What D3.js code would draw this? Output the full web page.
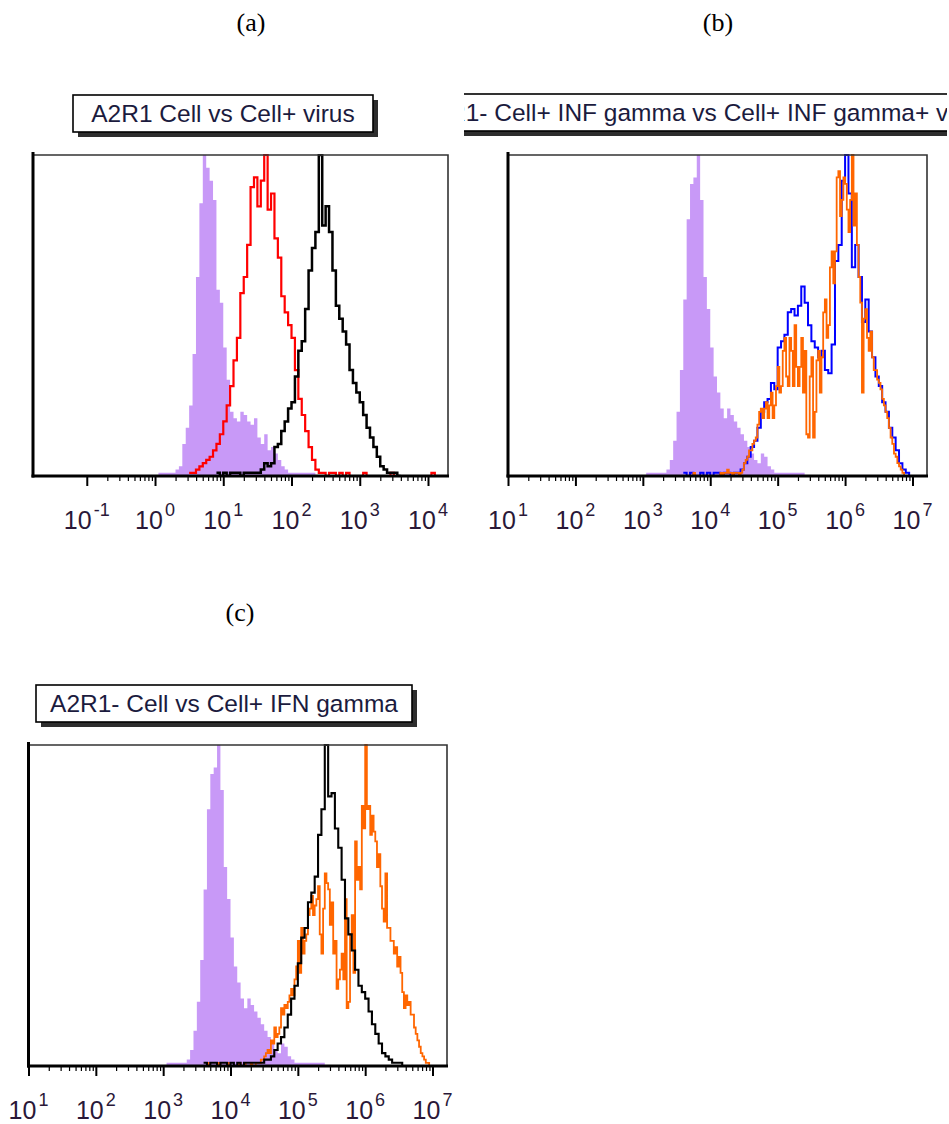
<!DOCTYPE html>
<html>
<head>
<meta charset="utf-8">
<script src="https://cdn.jsdelivr.net/npm/d3@7"></script>
<style>
  html, body { margin: 0; padding: 0; background: #fff; }
  svg { display: block; }
</style>
</head>
<body>
<svg id="fig" width="949" height="1124"></svg>
<script>
// Channel widths of the histograms, in decades of fluorescence.
const BIN = 0.05;
const BIN_FINE = 0.025;

// Decade tick values of the two axis types.
const ticksA = [0.1, 1, 10, 100, 1000, 10000];
const ticksBC = [10, 100, 1000, 10000, 100000, 1000000, 10000000];

// Titles and panel letters.
const titleA = "A2R1 Cell vs Cell+ virus";
const titleB = "A2R1- Cell+ INF gamma vs Cell+ INF gamma+ virus";
const titleC = "A2R1- Cell vs Cell+ IFN gamma";
const letters = ["(a)", "(b)", "(c)"];

// Panel (a): counts in % of the tallest channel; each list starts at log10 = *Start.
const isotypeAStart = 0.0;
const isotypeA = [0,1,1,1,1,1,2,3,10,15, 22,38,62,85,100,96,92,86,58,54,
                  40,30,20,18,17,20,19,17,16,18, 12,10,13,8,9,7,5,3,2,1,
                  1,1,1,1,1,1,1,0];
const cellAStart = 0.5;
const cellA = [1,1,2,3,4,5,6,8,10,13, 17,22,28,36,43,57,62,72,90,93,
               84,92,100,83,88,74,68,56,51,47, 43,33,24,19,14,9,5,2,1,1,
               0,1,1,0,1,0,1,0,0,0, 0,1,0,0,0,0,0,0,0,1,
               0,0,0,0,0,0,0,0,0,0, 0,1];
const virusAStart = 0.9;
const virusA = [1,0,1,0,1,1,1,0,1,1, 1,1,1,2,4,3,4,9,10,14,
                17,21,23,31,39,42,52,64,71,76, 100,78,84,76,64,53,49,45,41,33,
                29,26,23,19,15,12,9,6,3,2, 1,1,1,0];

// Panels (b) and (c) share the unstained control.
const isotypeBCStart = 3.0;
const isotypeBC = [0,1,1,1,1,1,1,2,5,11, 20,33,55,80,91,93,100,86,62,52,
                   40,31,26,21,18,21,19,17,15,13, 11,9,7,5,4,7,6,3,2,1,
                   1,1,1,1,1,1,1,1,0];

// Panel (b)
const ifnBStart = 3.6;
const ifnB = [1,0,1,0,0,1,0,1,0,1, 1,0,1,1,0,1,1,2,4,6,
              9,11,15,20,23,24,29,27,40,42, 44,51,52,50,53,59,54,47,42,40,
              37,39,33,32,41,67,72,92,100,88, 65,72,62,48,55,45,37,31,28,23,
              20,15,12,8,4,2,1,0];
// fine channels (BIN_FINE)
const ifnVirusBStart = 3.6;
const ifnVirusB = [0,0, 0,0, 0,0, 1,0, 0,0, 0,0, 0,0, 0,0, 0,0, 0,0,
                   0,0, 1,0, 1,1, 2,1, 1,0, 1,1, 1,0, 1,2, 4,5, 6,8,
                   8,10, 11,12, 16,20, 21,18, 21,23, 18,22, 26,18, 22,28, 34,26, 28,39,
                   43,31, 28,43, 39,28, 47,34, 28,34, 43,26, 39,13, 12,31, 37,12, 20,36,
                   39,26, 37,51, 55,43, 47,65, 70,60, 70,93, 95,81, 86,93, 91,83, 76,86,
                   100,78, 88,72, 62,54, 26,49, 52,43, 39,45, 37,33, 33,30, 29,27, 24,22,
                   20,18, 15,12, 10,7, 6,4, 3,2, 1,0, 0,0];

// Panel (c)
const cellCStart = 3.6;
const cellC = [1,0,1,1,0,1,1,0,1,0, 1,0,1,1,1,1,1,1,2,2,
               3,5,7,9,12,16,21,25,32,40, 43,51,54,59,72,80,100,84,85,74,
               68,58,46,41,36,30,25,23,21,17, 13,10,7,4,3,2,1,1,1,0];
// fine channels (BIN_FINE)
const ifnCStart = 3.6;
const ifnC = [0,0, 1,0, 0,0, 0,0, 0,1, 0,0, 0,0, 1,0, 0,0, 0,0,
              0,1, 0,0, 1,0, 0,0, 1,0, 0,1, 1,1, 2,2, 3,4, 5,4,
              8,7, 12,9, 10,12, 18,16, 19,18, 20,22, 24,22, 27,31, 39,29, 43,35,
              39,41, 47,49, 53,47, 50,52, 56,41, 35,49, 60,57, 55,44, 51,35, 39,24,
              27,30, 35,27, 52,18, 20,41, 47,29, 70,58, 62,55, 81,74, 100,80, 81,72,
              78,73, 70,62, 66,56, 49,45, 60,43, 43,39, 39,35, 37,31, 34,29, 23,18,
              22,19, 20,16, 16,12, 10,8, 6,4, 3,2, 1,1, 0,0];

// ---------------------------------------------------------------------------
const PURPLE = "#c899f7", RED = "#ff0000", BLACK = "#000000",
      BLUE = "#0000ff", ORANGE = "#ff6600";

const svg = d3.select("#fig");
svg.append("rect").attr("width", 949).attr("height", 1124).attr("fill", "#fff");

const defs = svg.append("defs");
defs.append("filter").attr("id", "soft")
  .append("feGaussianBlur").attr("stdDeviation", 0.6);

function drawTitle(g, box, text, textX, anchor) {
  g.append("rect")
    .attr("x", box.x + 5).attr("y", box.y + 5)
    .attr("width", box.w).attr("height", box.h)
    .attr("fill", "#2e2e2e").attr("filter", "url(#soft)");
  g.append("rect")
    .attr("x", box.x).attr("y", box.y)
    .attr("width", box.w).attr("height", box.h)
    .attr("fill", "#fff").attr("stroke", "#000").attr("stroke-width", 1.6);
  g.append("text")
    .attr("x", textX).attr("y", box.y + 27)
    .attr("text-anchor", anchor)
    .attr("font-family", "'Liberation Sans', Arial, sans-serif")
    .attr("font-size", 24.5)
    .attr("fill", "#1b1b3e")
    .text(text);
}

function drawPanel(g, cfg) {
  const x = d3.scaleLog()
    .domain([Math.pow(10, cfg.lo), Math.pow(10, cfg.hi)])
    .range([cfg.left, cfg.right]);
  const y = d3.scaleLinear().domain([0, 100]).range([cfg.bottom, cfg.top]);

  const clipId = "clip-" + cfg.id;
  defs.append("clipPath").attr("id", clipId)
    .append("rect")
    .attr("x", cfg.left).attr("y", cfg.top - 1)
    .attr("width", cfg.right - cfg.left).attr("height", cfg.bottom - cfg.top + 1);

  const plot = g.append("g").attr("clip-path", `url(#${clipId})`);

  cfg.series.forEach(s => {
    const w = s.bin || BIN;
    const pts = s.counts.map((c, i) => ({ v: Math.pow(10, s.start + i * w), c }));
    pts.push({ v: Math.pow(10, s.start + s.counts.length * w), c: 0 });
    if (s.fill) {
      const area = d3.area()
        .x(d => x(d.v)).y0(y(0)).y1(d => y(d.c))
        .curve(d3.curveStepAfter);
      plot.append("path").attr("d", area(pts)).attr("fill", s.color);
    } else {
      const line = d3.line()
        .x(d => x(d.v)).y(d => y(d.c))
        .curve(d3.curveStepAfter);
      plot.append("path").attr("d", line(pts))
        .attr("fill", "none").attr("stroke", s.color)
        .attr("stroke-width", s.width || 1.6)
        .attr("stroke-linejoin", "miter");
    }
  });

  // thin frame on top and right
  g.append("path")
    .attr("d", `M${cfg.left},${cfg.top}H${cfg.right}V${cfg.bottom}`)
    .attr("fill", "none").attr("stroke", "#333").attr("stroke-width", 1.6);

  // minor ticks 2..9 within each labelled decade
  const minors = [];
  for (let i = 0; i < cfg.ticks.length - 1; i++) {
    for (let k = 2; k <= 9; k++) minors.push(cfg.ticks[i] * k);
  }
  const minorAxis = d3.axisBottom(x).tickValues(minors).tickSize(5).tickFormat("");
  const gm = g.append("g").attr("transform", `translate(0,${cfg.bottom})`).call(minorAxis);
  gm.select(".domain").remove();
  gm.selectAll("line").attr("stroke", "#000").attr("stroke-width", 1.2);

  const majorAxis = d3.axisBottom(x).tickValues(cfg.ticks).tickSize(10).tickFormat("");
  const gM = g.append("g").attr("transform", `translate(0,${cfg.bottom})`).call(majorAxis);
  gM.select(".domain").remove();
  gM.selectAll("line").attr("stroke", "#000").attr("stroke-width", 2);

  // heavy axis lines
  g.append("line")
    .attr("x1", cfg.left - 1.5).attr("x2", cfg.right + 1)
    .attr("y1", cfg.bottom).attr("y2", cfg.bottom)
    .attr("stroke", "#000").attr("stroke-width", 3);
  g.append("line")
    .attr("x1", cfg.left).attr("x2", cfg.left)
    .attr("y1", cfg.top - 3).attr("y2", cfg.bottom + 1.5)
    .attr("stroke", "#000").attr("stroke-width", 3);

  // decade labels 10^n
  const labels = g.append("g")
    .attr("font-family", "'Liberation Sans', Arial, sans-serif")
    .attr("fill", "#2a1838");
  cfg.ticks.forEach(t => {
    const e = Math.round(Math.log10(t));
    const txt = labels.append("text")
      .attr("x", x(t)).attr("y", cfg.bottom + 53)
      .attr("text-anchor", "middle")
      .attr("font-size", 25);
    txt.append("tspan").text("10");
    txt.append("tspan")
      .attr("dx", 2).attr("dy", -13).attr("font-size", 18)
      .text(e < 0 ? "-" + Math.abs(e) : String(e));
  });
}

// ---- panel (a)
const gA = svg.append("g");
drawTitle(gA, { x: 73, y: 95, w: 300, h: 37 }, titleA, 223, "middle");
drawPanel(gA, {
  id: "a", left: 33, right: 448, top: 155, bottom: 476, lo: -1.788, hi: 4.293,
  ticks: ticksA,
  series: [
    { counts: isotypeA, start: isotypeAStart, color: PURPLE, fill: true },
    { counts: cellA, start: cellAStart, color: RED, width: 2.2 },
    { counts: virusA, start: virusAStart, color: BLACK, width: 2.5 }
  ]
});

// ---- panel (b), cut at its left edge
defs.append("clipPath").attr("id", "clip-b-panel")
  .append("rect").attr("x", 464).attr("y", 0).attr("width", 483).attr("height", 600);
const gB = svg.append("g").attr("clip-path", "url(#clip-b-panel)");
drawTitle(gB, { x: 403, y: 94, w: 600, h: 37 }, titleB, 418, "start");
drawPanel(gB, {
  id: "b", left: 508, right: 927, top: 155, bottom: 476, lo: 1, hi: 7.215,
  ticks: ticksBC,
  series: [
    { counts: isotypeBC, start: isotypeBCStart, color: PURPLE, fill: true },
    { counts: ifnB, start: ifnBStart, color: BLUE, width: 2 },
    { counts: ifnVirusB, start: ifnVirusBStart, bin: BIN_FINE, color: ORANGE, width: 1.8 }
  ]
});

// ---- panel (c)
const gC = svg.append("g");
drawTitle(gC, { x: 36, y: 685, w: 376, h: 37 }, titleC, 224, "middle");
drawPanel(gC, {
  id: "c", left: 28.5, right: 447, top: 745, bottom: 1066, lo: 1, hi: 7.215,
  ticks: ticksBC,
  series: [
    { counts: isotypeBC, start: isotypeBCStart, color: PURPLE, fill: true },
    { counts: ifnC, start: ifnCStart, bin: BIN_FINE, color: ORANGE, width: 1.8 },
    { counts: cellC, start: cellCStart, color: BLACK, width: 2.1 }
  ]
});

// ---- panel letters
const letterPos = [[251, 31], [718, 31], [240, 621]];
svg.append("g")
  .attr("font-family", "'Liberation Serif', 'Times New Roman', serif")
  .attr("font-size", 26).attr("fill", "#000").attr("text-anchor", "middle")
  .selectAll("text").data(letters).join("text")
  .attr("x", (d, i) => letterPos[i][0]).attr("y", (d, i) => letterPos[i][1])
  .text(d => d);
</script>
</body>
</html>
